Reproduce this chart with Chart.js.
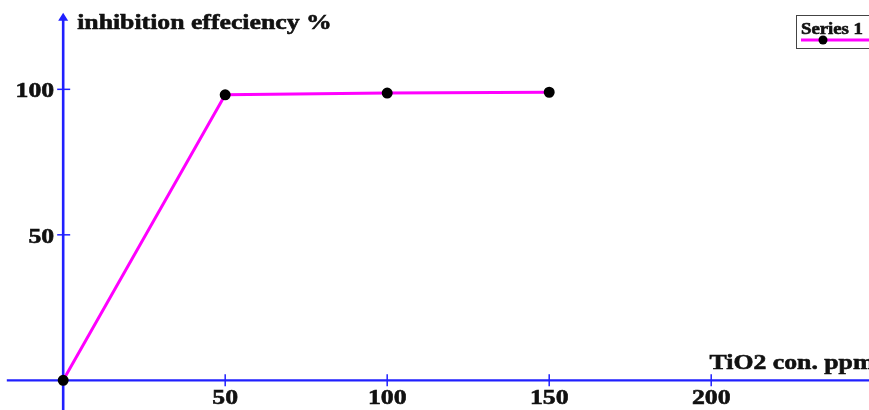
<!DOCTYPE html>
<html>
<head>
<meta charset="utf-8">
<script src="https://cdn.jsdelivr.net/npm/chart.js"></script>
<style>body{margin:0;background:#fff}</style>
</head>
<body>
<canvas id="myChart" width="869" height="410"></canvas>
<script>
// data
const concentrations = [0, 50, 100, 150];
const efficiency = [0, 98.1, 98.7, 99.0];
const xTicks = [50, 100, 150, 200];
const yTicks = [50, 100];
const xTitle = 'TiO2 con. ppm';
const yTitle = 'inhibition effeciency %';
const seriesName = 'Series 1';

const AXIS_BLUE = '#2020ff';
const FONT = 'bold 22px "Liberation Serif", "Times New Roman", serif';
const STRETCH = 1.17; // the original text is a bit wide

// text a little wider and heavier than the plain font
function wideText(ctx, text, x, y, align) {
    ctx.save();
    ctx.translate(x, y);
    ctx.scale(STRETCH, 1);
    ctx.textAlign = align;
    ctx.lineWidth = 0.6;
    ctx.strokeStyle = ctx.fillStyle;
    ctx.fillText(text, 0, 0);
    ctx.strokeText(text, 0, 0);
    ctx.restore();
}

// axes drawn through the origin, like the original
const crossAxes = {
    id: 'crossAxes',
    beforeDatasetsDraw(chart) {
        const { ctx, scales: { x, y } } = chart;
        const x0 = x.getPixelForValue(0);
        const y0 = y.getPixelForValue(0);
        ctx.save();
        ctx.strokeStyle = AXIS_BLUE;
        ctx.fillStyle = AXIS_BLUE;
        ctx.lineWidth = 2.2;

        ctx.beginPath();
        ctx.moveTo(x.getPixelForValue(-17.4), y0);
        ctx.lineTo(chart.width, y0);
        ctx.stroke();

        const top = y.getPixelForValue(126);
        ctx.lineWidth = 2.6;
        ctx.beginPath();
        ctx.moveTo(x0, chart.height);
        ctx.lineTo(x0, top + 6);
        ctx.stroke();
        // arrow head
        ctx.beginPath();
        ctx.moveTo(x0, top - 1);
        ctx.lineTo(x0 - 5, top + 7);
        ctx.lineTo(x0 + 5, top + 7);
        ctx.closePath();
        ctx.fill();

        ctx.lineWidth = 1.5;
        xTicks.concat([250]).forEach(v => {
            const px = x.getPixelForValue(v);
            ctx.beginPath();
            ctx.moveTo(px, y0 - 6);
            ctx.lineTo(px, y0 + 6);
            ctx.stroke();
        });
        yTicks.forEach(v => {
            const py = y.getPixelForValue(v);
            ctx.beginPath();
            ctx.moveTo(x0 - 6, py);
            ctx.lineTo(x0 + 7, py);
            ctx.stroke();
        });

        ctx.fillStyle = '#111';
        ctx.font = FONT;
        ctx.textBaseline = 'alphabetic';
        xTicks.forEach(v => {
            wideText(ctx, String(v), x.getPixelForValue(v), y0 + 24, 'center');
        });
        yTicks.forEach(v => {
            wideText(ctx, String(v), x0 - 9, y.getPixelForValue(v) + 8, 'right');
        });

        wideText(ctx, yTitle, x0 + 14, 29, 'left');
        wideText(ctx, xTitle, x.getPixelForValue(199.5), y0 - 11, 'left');
        ctx.restore();
    },
    afterDraw(chart) {
        // legend box in the top right, cut by the edge
        const { ctx } = chart;
        const ds = chart.data.datasets[0];
        ctx.save();
        ctx.fillStyle = '#fff';
        ctx.fillRect(796, 15, 100, 33);
        ctx.strokeStyle = '#444';
        ctx.lineWidth = 1;
        ctx.strokeRect(796.5, 15.5, 100, 33);
        ctx.fillStyle = '#111';
        ctx.font = 'bold 16px "Liberation Serif", "Times New Roman", serif';
        ctx.textBaseline = 'alphabetic';
        wideText(ctx, ds.label, 801, 34, 'left');
        ctx.strokeStyle = ds.borderColor;
        ctx.lineWidth = 3;
        ctx.beginPath();
        ctx.moveTo(801, 40);
        ctx.lineTo(869, 40);
        ctx.stroke();
        ctx.fillStyle = ds.pointBackgroundColor;
        ctx.beginPath();
        ctx.arc(823, 40, 4.5, 0, Math.PI * 2);
        ctx.fill();
        ctx.restore();
    }
};

const ctx = document.getElementById('myChart').getContext('2d');
new Chart(ctx, {
    type: 'scatter',
    data: {
        datasets: [{
            label: seriesName,
            data: concentrations.map((c, i) => ({ x: c, y: efficiency[i] })),
            showLine: true,
            borderColor: '#ff00ff',
            borderWidth: 3,
            pointBackgroundColor: '#000',
            pointBorderColor: '#000',
            pointRadius: 4,
            clip: false
        }]
    },
    options: {
        responsive: false,
        devicePixelRatio: 1,
        animation: false,
        layout: { padding: 0, autoPadding: false },
        plugins: {
            legend: { display: false },
            tooltip: { enabled: false }
        },
        scales: {
            x: { type: 'linear', min: -19.5, max: 248.7, display: false },
            y: { type: 'linear', min: -10.2, max: 130.7, display: false }
        }
    },
    plugins: [crossAxes]
});
</script>
</body>
</html>
